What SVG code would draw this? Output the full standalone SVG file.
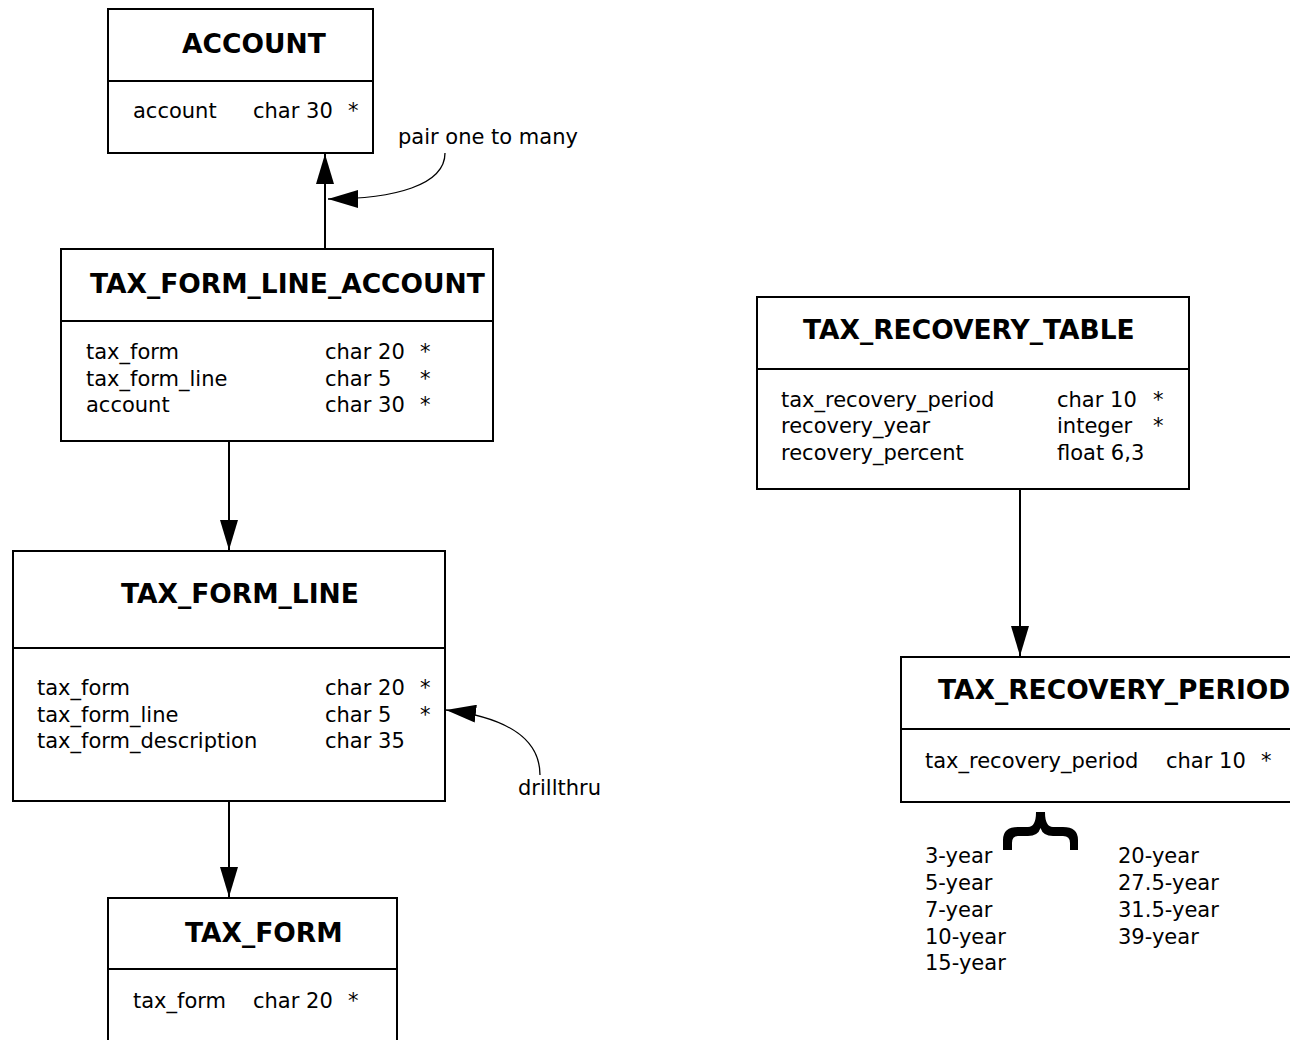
<svg xmlns="http://www.w3.org/2000/svg" width="1290" height="1040" viewBox="0 0 1290 1040">
<style>
.box{fill:#fff;stroke:#000;stroke-width:2}
.div{stroke:#000;stroke-width:2}
.t{font-family:"DejaVu Sans",sans-serif;font-size:26.5px;font-weight:bold;fill:#000}
.f{font-family:"DejaVu Sans",sans-serif;font-size:21px;fill:#000}
.c{fill:none;stroke:#000;stroke-width:2}
.thin{fill:none;stroke:#000;stroke-width:1.3}
</style>
<defs>
<marker id="ah" markerUnits="userSpaceOnUse" markerWidth="30" markerHeight="18" refX="30" refY="9" orient="auto">
<path d="M0,0 L30,9 L0,18 z" fill="#000"/>
</marker>
</defs>
<rect width="1290" height="1040" fill="#fff"/>
<g id="connectors">
<line class="c" x1="325" y1="249" x2="325" y2="154" marker-end="url(#ah)"/>
<path class="thin" d="M445,153 C445,185 395,199 328,199" marker-end="url(#ah)"/>
<line class="c" x1="229" y1="441" x2="229" y2="550" marker-end="url(#ah)"/>
<line class="c" x1="229" y1="801" x2="229" y2="897" marker-end="url(#ah)"/>
<path class="thin" d="M540,775 C540,742 512,718 446,710" marker-end="url(#ah)"/>
<line class="c" x1="1020" y1="489" x2="1020" y2="656" marker-end="url(#ah)"/>
</g>
<g id="account">
<rect class="box" x="108" y="9" width="265" height="144"/>
<line class="div" x1="108" y1="81" x2="373" y2="81"/>
<text class="t" x="182" y="53">ACCOUNT</text>
<text class="f" x="133" y="118">account</text>
<text class="f" x="253" y="118">char 30</text>
<text class="f" x="348" y="118">*</text>
</g>
<g id="label-pair">
<text class="f" x="398" y="144">pair one to many</text>
</g>
<g id="tax_form_line_account">
<rect class="box" x="61" y="249" width="432" height="192"/>
<line class="div" x1="61" y1="321" x2="493" y2="321"/>
<text class="t" x="90" y="293">TAX_FORM_LINE_ACCOUNT</text>
<text class="f" x="86" y="359">tax_form</text>
<text class="f" x="86" y="386">tax_form_line</text>
<text class="f" x="86" y="412">account</text>
<text class="f" x="325" y="359">char 20</text>
<text class="f" x="325" y="386">char 5</text>
<text class="f" x="325" y="412">char 30</text>
<text class="f" x="420" y="359">*</text>
<text class="f" x="420" y="386">*</text>
<text class="f" x="420" y="412">*</text>
</g>
<g id="tax_form_line">
<rect class="box" x="13" y="551" width="432" height="250"/>
<line class="div" x1="13" y1="648" x2="445" y2="648"/>
<text class="t" x="121" y="603">TAX_FORM_LINE</text>
<text class="f" x="37" y="695">tax_form</text>
<text class="f" x="37" y="722">tax_form_line</text>
<text class="f" x="37" y="748">tax_form_description</text>
<text class="f" x="325" y="695">char 20</text>
<text class="f" x="325" y="722">char 5</text>
<text class="f" x="325" y="748">char 35</text>
<text class="f" x="420" y="695">*</text>
<text class="f" x="420" y="722">*</text>
</g>
<g id="label-drillthru">
<text class="f" x="518" y="795">drillthru</text>
</g>
<g id="tax_form">
<rect class="box" x="108" y="898" width="289" height="170"/>
<line class="div" x1="108" y1="969" x2="397" y2="969"/>
<text class="t" x="185" y="942">TAX_FORM</text>
<text class="f" x="133" y="1008">tax_form</text>
<text class="f" x="253" y="1008">char 20</text>
<text class="f" x="348" y="1008">*</text>
</g>
<g id="tax_recovery_table">
<rect class="box" x="757" y="297" width="432" height="192"/>
<line class="div" x1="757" y1="369" x2="1189" y2="369"/>
<text class="t" x="803" y="339">TAX_RECOVERY_TABLE</text>
<text class="f" x="781" y="407">tax_recovery_period</text>
<text class="f" x="781" y="433">recovery_year</text>
<text class="f" x="781" y="460">recovery_percent</text>
<text class="f" x="1057" y="407">char 10</text>
<text class="f" x="1057" y="433">integer</text>
<text class="f" x="1057" y="460">float 6,3</text>
<text class="f" x="1153" y="407">*</text>
<text class="f" x="1153" y="433">*</text>
</g>
<g id="tax_recovery_period">
<rect class="box" x="901" y="657" width="432" height="145"/>
<line class="div" x1="901" y1="729" x2="1333" y2="729"/>
<text class="t" x="938" y="699">TAX_RECOVERY_PERIOD</text>
<text class="f" x="925" y="768">tax_recovery_period</text>
<text class="f" x="1166" y="768">char 10</text>
<text class="f" x="1261" y="768">*</text>
</g>
<g id="period-values">
<path d="M1003,850 V840 Q1003,827 1018,827 H1028 Q1036,827 1036,812 H1045 Q1045,827 1053,827 H1063 Q1078,827 1078,840 V850 H1070 V843 Q1070,836 1063,836 H1053 Q1043,836 1040.5,828 Q1038,836 1028,836 H1018 Q1012,836 1012,843 V850 Z" fill="#000"/>
<text class="f" x="925" y="863">3-year</text>
<text class="f" x="925" y="890">5-year</text>
<text class="f" x="925" y="917">7-year</text>
<text class="f" x="925" y="944">10-year</text>
<text class="f" x="925" y="970">15-year</text>
<text class="f" x="1118" y="863">20-year</text>
<text class="f" x="1118" y="890">27.5-year</text>
<text class="f" x="1118" y="917">31.5-year</text>
<text class="f" x="1118" y="944">39-year</text>
</g>
</svg>
